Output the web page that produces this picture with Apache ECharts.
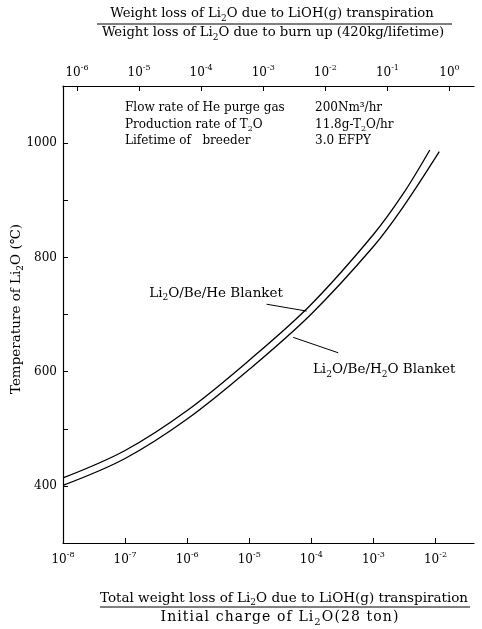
<!DOCTYPE html>
<html>
<head>
<meta charset="utf-8">
<script src="https://cdn.jsdelivr.net/npm/echarts@6/dist/echarts.min.js"></script>
<style>
  html, body { margin: 0; padding: 0; background: #fff; }
  #chart { width: 482px; height: 629px; }
</style>
</head>
<body>
<div id="chart"></div>
<script>
// Total Li2O loss fraction (bottom axis) vs. breeder temperature (°C)
const heLoss   = [1e-8, 1e-7, 1e-6, 1e-5, 1e-4, 1e-3, 3e-3, 8.1e-3];
const heTemp   = [414, 462, 532, 620, 718, 840, 911, 988];
const h2oLoss  = [1e-8, 1e-7, 1e-6, 1e-5, 1e-4, 1e-3, 3e-3, 1.15e-2];
const h2oTemp  = [401, 448, 517, 604, 701, 819, 888, 985];

// Axis ranges and tick values
const bottomRange = [1e-8, 0.0417];
const topRange    = [5.96e-7, 2.48];
const bottomTicks = [1e-8, 1e-7, 1e-6, 1e-5, 1e-4, 1e-3, 1e-2];
const topTicks    = [1e-6, 1e-5, 1e-4, 1e-3, 1e-2, 1e-1, 1];
const tempRange   = [300, 1100];
const tempLabels  = [400, 600, 800, 1000];

// Curve labels: anchor point and leader line (loss, temperature)
const heLabelAt   = [3.49e-5, 736];
const heLeader    = [[1.9e-5, 718], [8.4e-5, 706]];
const h2oLabelAt  = [1.06e-4, 602];
const h2oLeader   = [[5.1e-5, 660], [2.71e-4, 633]];

const SERIF = '"DejaVu Serif", "Liberation Serif", serif';

// Rich styles: n = normal text, s = subscript (optionally letter-spaced)
function makeRich(fs, track) {
  const pr = track || 0;
  return {
    n: { fontFamily: SERIF, fontSize: fs, color: '#000', verticalAlign: 'top', lineHeight: fs + 2, padding: [0, pr, 0, 0] },
    s: { fontFamily: SERIF, fontSize: Math.round(fs * 0.68), color: '#000', verticalAlign: 'top',
         lineHeight: Math.round(fs * 0.68) + 2, padding: [Math.round(fs * 0.5), pr, 0, 0] }
  };
}
const richSup = {
  b: { fontFamily: SERIF, fontSize: 12, color: '#000', verticalAlign: 'top', lineHeight: 14, padding: [3, 0, 0, 0] },
  p: { fontFamily: SERIF, fontSize: 8, color: '#000', verticalAlign: 'top', lineHeight: 10 }
};

// "Li{2}O" markup -> rich text with subscripts; perChar splits into single glyph tokens
function sub(str, perChar) {
  return str.split(/(\{\d\})/).filter(s => s.length).map(s => {
    const m = s.match(/^\{(\d)\}$/);
    if (m) return '{s|' + m[1] + '}';
    if (!perChar) return '{n|' + s + '}';
    return s.split('').map(c => '{n|' + c + '}').join('');
  }).join('');
}
function powLabel(v) {
  const e = Math.log10(v);
  const r = Math.round(e);
  if (Math.abs(e - r) > 1e-6) return '';
  return '{b|10}{p|' + (r < 0 ? '-' + (-r) : r) + '}';
}

const chart = echarts.init(document.getElementById('chart'), null, { renderer: 'canvas' });

const gridL = 63, gridT = 86, gridR = 8, gridB = 86;

function textEl(x, y, markup, opts) {
  const o = opts || {};
  return {
    type: 'text', x: x, y: y, silent: true, rotation: o.rotation || 0,
    style: {
      text: sub(markup, !!o.track), rich: makeRich(o.fs || 12, o.track),
      align: o.align || 'left', verticalAlign: 'middle'
    }
  };
}
function bar(x1, x2, y) {
  return { type: 'line', silent: true, shape: { x1: x1, y1: y, x2: x2, y2: y }, style: { stroke: '#000', lineWidth: 1 } };
}

const option = {
  backgroundColor: '#fff',
  animation: false,
  grid: { left: gridL, top: gridT, right: gridR, bottom: gridB, containLabel: false },
  xAxis: [
    {
      type: 'log', logBase: 10, position: 'bottom',
      min: bottomRange[0], max: bottomRange[1],
      axisLine: { show: true, onZero: false, lineStyle: { color: '#000', width: 1.2 } },
      axisTick: { show: true, inside: true, length: 5, customValues: bottomTicks, lineStyle: { color: '#000', width: 1 } },
      minorTick: { show: false },
      splitLine: { show: false },
      axisLabel: { show: true, margin: 8, customValues: bottomTicks, formatter: powLabel, rich: richSup }
    },
    {
      type: 'log', logBase: 10, position: 'top',
      min: topRange[0], max: topRange[1],
      axisLine: { show: true, onZero: false, lineStyle: { color: '#000', width: 1.2 } },
      axisTick: { show: true, inside: true, length: 5, customValues: topTicks, lineStyle: { color: '#000', width: 1 } },
      minorTick: { show: false },
      splitLine: { show: false },
      axisLabel: { show: true, margin: 8, customValues: topTicks, formatter: powLabel, rich: richSup }
    }
  ],
  yAxis: {
    type: 'value', min: tempRange[0], max: tempRange[1], interval: 100,
    axisLine: { show: true, onZero: false, lineStyle: { color: '#000', width: 1.2 } },
    axisTick: { show: true, inside: true, length: 5, lineStyle: { color: '#000', width: 1 } },
    splitLine: { show: false },
    axisLabel: {
      margin: 6, fontFamily: SERIF, fontSize: 12, color: '#000',
      formatter: v => (tempLabels.indexOf(v) >= 0 ? String(v) : '')
    }
  },
  series: [
    {
      name: 'Li2O/Be/He Blanket', type: 'line', xAxisIndex: 0,
      data: heLoss.map((x, i) => [x, heTemp[i]]),
      smooth: 0.35, symbol: 'none',
      lineStyle: { color: '#000', width: 1.3 },
      markLine: {
        silent: true, symbol: 'none', animation: false,
        label: { show: false },
        lineStyle: { color: '#000', width: 1, type: 'solid' },
        data: [[{ coord: heLeader[0] }, { coord: heLeader[1] }]]
      },
      markPoint: {
        silent: true, symbol: 'circle', symbolSize: 0,
        data: [{ coord: heLabelAt }],
        label: { show: true, position: 'left', distance: 0, formatter: sub('Li{2}O/Be/He Blanket'), rich: makeRich(13.5) }
      }
    },
    {
      name: 'Li2O/Be/H2O Blanket', type: 'line', xAxisIndex: 0,
      data: h2oLoss.map((x, i) => [x, h2oTemp[i]]),
      smooth: 0.35, symbol: 'none',
      lineStyle: { color: '#000', width: 1.3 },
      markLine: {
        silent: true, symbol: 'none', animation: false,
        label: { show: false },
        lineStyle: { color: '#000', width: 1, type: 'solid' },
        data: [[{ coord: h2oLeader[0] }, { coord: h2oLeader[1] }]]
      },
      markPoint: {
        silent: true, symbol: 'circle', symbolSize: 0,
        data: [{ coord: h2oLabelAt }],
        label: { show: true, position: 'right', distance: 0, formatter: sub('Li{2}O/Be/H{2}O Blanket'), rich: makeRich(13.5) }
      }
    }
  ],
  graphic: [
    // top axis title (fraction)
    textEl(272, 15, 'Weight loss of Li{2}O due to LiOH(g) transpiration', { fs: 13.2, align: 'center' }),
    bar(97, 452, 24),
    textEl(273, 34, 'Weight loss of Li{2}O due to burn up (420kg/lifetime)', { fs: 13.2, align: 'center' }),
    // bottom axis title (fraction)
    textEl(284, 599, 'Total weight loss of Li{2}O due to LiOH(g) transpiration', { fs: 13.5, align: 'center' }),
    bar(100, 470, 607),
    textEl(280, 618, 'Initial charge of Li{2}O(28 ton)', { fs: 14, align: 'center', track: 1.1 }),
    // operating conditions
    textEl(125, 109, 'Flow rate of He purge gas'),
    textEl(315, 109, '200Nm³/hr'),
    textEl(125, 126, 'Production rate of T{2}O'),
    textEl(315, 126, '11.8g-T{2}O/hr'),
    textEl(125, 142, 'Lifetime of   breeder'),
    textEl(315, 142, '3.0 EFPY'),
    // y axis title
    textEl(17, 309, 'Temperature of Li{2}O (℃)', { fs: 13.5, align: 'center', rotation: Math.PI / 2 })
  ]
};

chart.setOption(option);
</script>
</body>
</html>
